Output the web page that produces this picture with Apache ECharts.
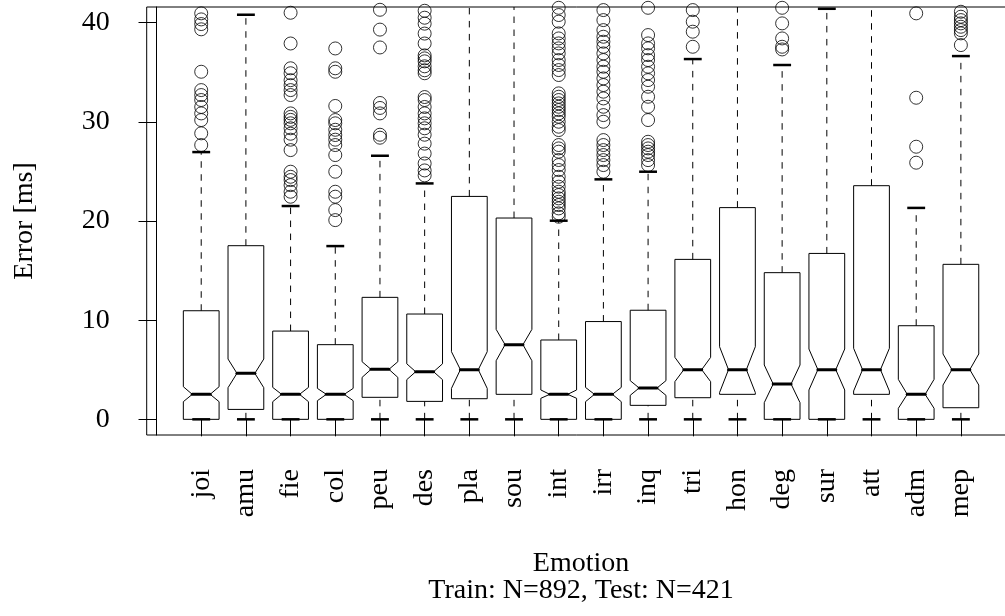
<!DOCTYPE html>
<html>
<head>
<meta charset="utf-8">
<script src="https://cdn.jsdelivr.net/npm/echarts@6/dist/echarts.min.js"></script>
<style>
html,body{margin:0;padding:0;background:#fff;}
#chart{width:1005px;height:616px;}
</style>
</head>
<body>
<div id="chart"></div>
<script>
const categories = ['joi','amu','fie','col','peu','des','pla','sou','int','irr','inq','tri','hon','deg','sur','att','adm','mep'];
const yTicks = [0, 10, 20, 30, 40];

const whiskerLow  = [0, 0, 0, 0, 0, 0, 0, 0, 0, 0, 0, 0, 0, 0, 0, 0, 0, 0];
const q1          = [0, 1.0, 0, 0, 2.22, 1.81, 2.08, 2.52, 0, 0, 1.41, 2.18, 2.52, 0, 0, 2.52, 0, 1.17];
const notchLow    = [1.78, 3.19, 1.78, 1.88, 4.23, 4.0, 3.12, 5.91, 2.12, 1.78, 2.42, 3.80, 2.70, 1.68, 2.96, 2.86, 1.11, 3.46];
const median      = [2.52, 4.64, 2.52, 2.52, 5.04, 4.8, 5.01, 7.53, 2.52, 2.52, 3.16, 5.01, 5.01, 3.56, 5.01, 5.01, 2.52, 5.01];
const notchHigh   = [3.29, 6.08, 3.22, 3.12, 5.81, 5.6, 6.82, 9.07, 2.96, 3.22, 3.90, 6.25, 7.32, 5.48, 7.09, 7.16, 4.03, 6.59];
const q3          = [10.95, 17.51, 8.9, 7.53, 12.3, 10.62, 22.48, 20.3, 8.0, 9.86, 11.0, 16.13, 21.35, 14.79, 16.73, 23.56, 9.44, 15.63];
const whiskerHigh = [26.95, 40.8, 21.51, 17.47, 26.58, 23.79, 50, 46, 20.03, 24.2, 24.97, 36.33, 48, 35.73, 41.4, 52, 21.32, 36.63];

const out_joi = [40.94, 40.33, 39.86, 39.33, 35.05, 33.2, 32.7, 32.2, 31.5, 30.85, 30.18, 28.84, 27.66];
const out_amu = [];
const out_fie = [41.0, 37.9, 35.4, 34.9, 34.2, 33.7, 33.2, 32.7, 30.85, 30.5, 30.2, 29.85, 29.35, 28.8, 28.2, 27.15, 24.97, 24.46, 24.13, 23.62, 22.95, 22.45];
const out_col = [37.4, 35.4, 35.05, 31.6, 30.18, 29.85, 29.2, 28.67, 28.2, 27.66, 26.65, 24.97, 22.95, 22.45, 21.1, 20.09];
const out_peu = [41.3, 39.3, 37.5, 31.9, 31.4, 30.85, 28.7, 28.4];
const out_des = [41.2, 40.5, 39.9, 38.9, 37.9, 36.7, 36.4, 36.1, 35.6, 35.2, 34.9, 32.5, 32.2, 31.5, 30.85, 30.35, 29.85, 29.35, 28.7, 27.8, 26.8, 25.8, 25.1, 24.6];
const out_pla = [];
const out_sou = [];
const out_int = [41.5, 40.77, 40.10, 38.92, 38.41, 37.91, 37.41, 36.90, 36.23, 35.73, 35.22, 34.72, 32.87, 32.53, 32.20, 31.86, 31.52, 31.19, 30.85, 30.52, 30.01, 29.51, 29.17, 27.66, 27.32, 26.99, 26.15, 25.64, 25.14, 24.46, 23.96, 23.46, 22.95, 22.62, 22.28, 21.94, 21.61, 21.27, 20.77, 20.43];
const out_irr = [41.27, 40.26, 39.25, 38.58, 38.08, 37.57, 36.90, 36.23, 35.56, 35.05, 34.38, 33.71, 33.04, 32.36, 31.52, 30.68, 30.01, 28.16, 27.66, 27.15, 26.65, 26.14, 25.64, 24.97];
const out_inq = [41.5, 38.75, 37.91, 37.41, 36.73, 36.23, 35.56, 34.89, 34.21, 33.54, 32.53, 31.52, 30.18, 27.99, 27.66, 27.32, 26.99, 26.65, 26.14, 25.64];
const out_tri = [41.27, 40.10, 39.09, 37.57];
const out_hon = [];
const out_deg = [41.5, 39.93, 38.41, 37.57, 37.3];
const out_sur = [];
const out_att = [];
const out_adm = [40.94, 32.43, 27.49, 25.88];
const out_mep = [41.1, 40.6, 40.26, 39.93, 39.59, 39.25, 38.92, 37.74];
const outliers = [out_joi, out_amu, out_fie, out_col, out_peu, out_des, out_pla, out_sou, out_int, out_irr, out_inq, out_tri, out_hon, out_deg, out_sur, out_att, out_adm, out_mep];

const xTickValues = categories.map((c, i) => i + 1);
const boxData = categories.map((c, i) => [i + 1, whiskerLow[i], q1[i], notchLow[i], median[i], notchHigh[i], q3[i], whiskerHigh[i]]);
const outlierData = [];
outliers.forEach((arr, i) => arr.forEach(v => outlierData.push([i + 1, v])));

const FONT = 'Liberation Serif';
const chart = echarts.init(document.getElementById('chart'), null, {renderer: 'canvas'});

function renderBox(params, api) {
  const x = api.value(0);
  const lo = api.value(1), bq1 = api.value(2), nlo = api.value(3), med = api.value(4),
        nhi = api.value(5), bq3 = api.value(6), hi = api.value(7);
  const w = 0.4, nw = 0.2, sw = 0.2;
  const P = (dx, v) => api.coord([x + dx, v]);
  const dash = {stroke: '#000', lineWidth: 1, lineDash: [6.5, 6.5]};
  return {
    type: 'group',
    children: [
      {type: 'line', shape: {x1: P(0, bq3)[0], y1: P(0, bq3)[1], x2: P(0, hi)[0], y2: P(0, hi)[1]}, style: dash},
      {type: 'line', shape: {x1: P(0, lo)[0], y1: P(0, lo)[1], x2: P(0, bq1)[0], y2: P(0, bq1)[1]}, style: dash},
      {type: 'polygon', shape: {points: [P(-w, bq1), P(-w, nlo), P(-nw, med), P(-w, nhi), P(-w, bq3), P(w, bq3), P(w, nhi), P(nw, med), P(w, nlo), P(w, bq1)]},
        style: {fill: 'none', stroke: '#000', lineWidth: 1}},
      {type: 'line', shape: {x1: P(-nw, med)[0], y1: P(-nw, med)[1], x2: P(nw, med)[0], y2: P(nw, med)[1]},
        style: {stroke: '#000', lineWidth: 3, lineCap: 'round'}},
      {type: 'line', shape: {x1: P(-sw, hi)[0], y1: P(-sw, hi)[1], x2: P(sw, hi)[0], y2: P(sw, hi)[1]},
        style: {stroke: '#000', lineWidth: 2.5}},
      {type: 'line', shape: {x1: P(-sw, lo)[0], y1: P(-sw, lo)[1], x2: P(sw, lo)[0], y2: P(sw, lo)[1]},
        style: {stroke: '#000', lineWidth: 2.5}}
    ]
  };
}

chart.setOption({
  backgroundColor: '#fff',
  animation: false,
  grid: {left: 146.7, top: 7, width: 868.7, height: 428, containLabel: false, outerBoundsMode: 'none',
    show: true, borderColor: '#000', borderWidth: 1, backgroundColor: 'transparent'},
  xAxis: {
    type: 'value', min: -0.22, max: 19.22,
    splitLine: {show: false},
    axisLine: {show: false},
    axisTick: {show: true, customValues: xTickValues, length: 17, lineStyle: {color: '#000', width: 1}},
    axisLabel: {show: true, customValues: xTickValues, formatter: v => categories[Math.round(v) - 1] || '',
      rotate: 90, margin: 34, color: '#000', fontFamily: FONT, fontSize: 28},
    name: 'Emotion\nTrain: N=892, Test: N=421',
    nameLocation: 'middle', nameGap: 115,
    nameTextStyle: {color: '#000', fontFamily: FONT, fontSize: 28, lineHeight: 27}
  },
  yAxis: {
    type: 'value', min: -1.58, max: 41.58,
    splitLine: {show: false},
    axisLine: {show: true, lineStyle: {color: '#000', width: 1}},
    axisTick: {show: true, customValues: yTicks, length: 18, lineStyle: {color: '#000', width: 1}},
    axisLabel: {show: true, customValues: yTicks, margin: 37, color: '#000', fontFamily: FONT, fontSize: 28},
    name: 'Error [ms]', nameLocation: 'middle', nameRotate: 90, nameGap: 108,
    nameTextStyle: {color: '#000', fontFamily: FONT, fontSize: 28}
  },
  series: [
    {type: 'custom', renderItem: renderBox, data: boxData, clip: true,
      encode: {x: 0, y: [1, 2, 3, 4, 5, 6, 7]}, z: 2},
    {type: 'scatter', data: outlierData, symbol: 'circle', symbolSize: 13, clip: true,
      itemStyle: {color: 'none', borderColor: '#000', borderWidth: 1}, z: 3}
  ]
});
</script>
</body>
</html>
